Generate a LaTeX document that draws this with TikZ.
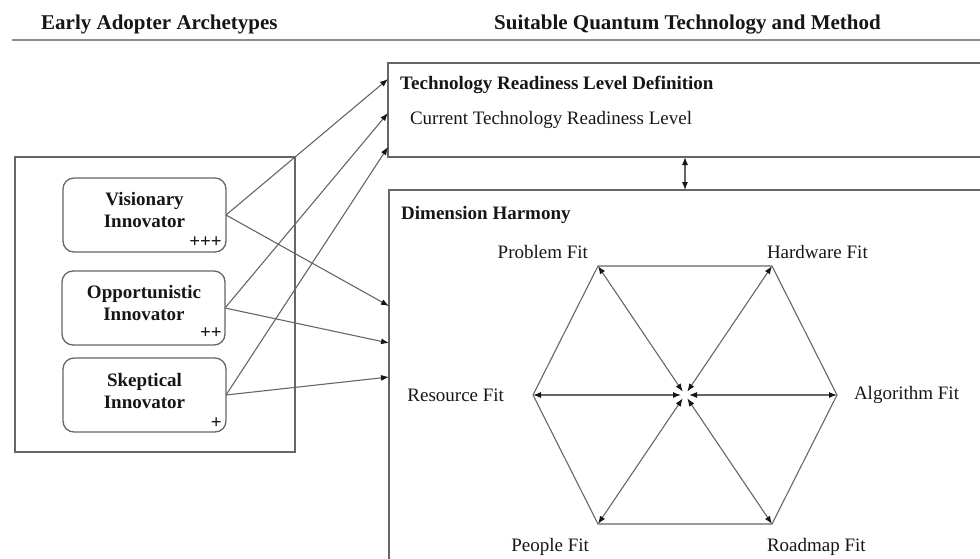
\documentclass[tikz,border=0pt]{standalone}
\usepackage{fontspec}
\setmainfont{Liberation Serif}
\usetikzlibrary{arrows.meta}

\definecolor{linegray}{HTML}{666666}
\definecolor{rulegray}{HTML}{8C8C8C}
\definecolor{ink}{HTML}{161616}

\tikzset{
  frame/.style={draw=linegray, line width=1.3pt, inner sep=0pt, outer sep=0pt, anchor=north west},
  archbox/.style={frame, rounded corners=11pt, minimum width=163pt, minimum height=74pt},
  body/.style={font=\fontsize{19}{22}\selectfont, text=ink, inner sep=0pt, outer sep=0pt},
  heading/.style={font=\fontsize{21}{25}\selectfont\bfseries, text=ink, inner sep=0pt},
  boxtitle/.style={font=\fontsize{19}{22}\selectfont\bfseries, text=ink, inner sep=0pt, anchor=base west},
  archlabel/.style={font=\fontsize{19}{22}\selectfont\bfseries, text=ink, inner sep=0pt, align=center},
  rating/.style={font=\fontsize{19}{22}\selectfont\bfseries, text=ink, inner sep=0pt, anchor=east},
  link/.style={draw=linegray, line width=1.1pt, -{Latex[length=8pt,width=6pt,color=ink]}},
  fitarrow/.style={draw=linegray, line width=1.1pt, {Latex[length=8pt,width=6pt,color=ink]}-{Latex[length=8pt,width=6pt,color=ink]}},
  hexedge/.style={draw=linegray, line width=1.1pt, line join=miter},
}

\begin{document}
\begin{tikzpicture}[x=1pt,y=-1pt]
\useasboundingbox (0,0) rectangle (980,558);
\clip (0,0) rectangle (980,558);

% column headings and rule
\node[heading, anchor=base west] (hleft) at (41,29) {Early Adopter Archetypes};
\node[heading, anchor=base west] (hright) at (494,29) {Suitable Quantum Technology and Method};
\coordinate (ruleL) at (12,40);
\coordinate (ruleR) at (990,40);
\draw[rulegray, line width=2.6pt] (ruleL) -- (ruleR);

% archetype panel
\node[frame, minimum width=280pt, minimum height=295pt] (adopters) at (15,157) {};
\node[archbox] (vis) at (63,178) {};
\node[archbox] (opp) at (62,271) {};
\node[archbox] (skep) at (63,358) {};

\node[archlabel] (visT) at (144.5,209.5) {Visionary\\Innovator};
\node[archlabel] (oppT) at (144,302.5) {Opportunistic\\Innovator};
\node[archlabel] (skepT) at (144.5,390.5) {Skeptical\\Innovator};
\node[rating] (visR) at (222,242) {+++};
\node[rating] (oppR) at (222,333) {++};
\node[rating] (skepR) at (222,423) {+};

% right-hand boxes
\node[frame, minimum width=620pt, minimum height=94pt] (trl) at (388,63) {};
\node[frame, minimum width=620pt, minimum height=420pt] (dh) at (389,190) {};
\node[boxtitle] (trlT) at (400,89) {Technology Readiness Level Definition};
\node[body, anchor=base west] (trlC) at (410,124) {Current Technology Readiness Level};
\node[boxtitle] (dhT) at (401,219) {Dimension Harmony};

% entry points on the right-hand boxes
\coordinate (t1) at (388,79);
\coordinate (t2) at (388,113);
\coordinate (t3) at (388,147);
\coordinate (d1) at (389,306);
\coordinate (d2) at (389,343);
\coordinate (d3) at (389,377);

\draw[link] (vis.east) -- (t1);
\draw[link] (vis.east) -- (d1);
\draw[link] (opp.east) -- (t2);
\draw[link] (opp.east) -- (d2);
\draw[link] (skep.east) -- (t3);
\draw[link] (skep.east) -- (d3);

% hexagon of fits
\coordinate (hc) at (685,395);
\coordinate (pf) at (598,266);
\coordinate (hf) at (772,266);
\coordinate (af) at (837,395);
\coordinate (rm) at (772,524);
\coordinate (pp) at (598,524);
\coordinate (rf) at (533,395);

\draw[fitarrow] (trl.south -| hc) -- (dh.north -| hc);

\draw[hexedge] (pf) -- (hf) -- (af) -- (rm) -- (pp) -- (rf) -- cycle;
\foreach \v in {pf,hf,af,rm,pp,rf}
  \draw[fitarrow, shorten >=4pt] (\v) -- (hc);

\node[body, anchor=base east] (pfL) at (588,258) {Problem Fit};
\node[body, anchor=base west] (hfL) at (767,258) {Hardware Fit};
\node[body, anchor=base west] (afL) at (854,399) {Algorithm Fit};
\node[body, anchor=base east] (rfL) at (504,401) {Resource Fit};
\node[body, anchor=base east] (ppL) at (589,551) {People Fit};
\node[body, anchor=base west] (rmL) at (767,551) {Roadmap Fit};
\end{tikzpicture}
\end{document}
